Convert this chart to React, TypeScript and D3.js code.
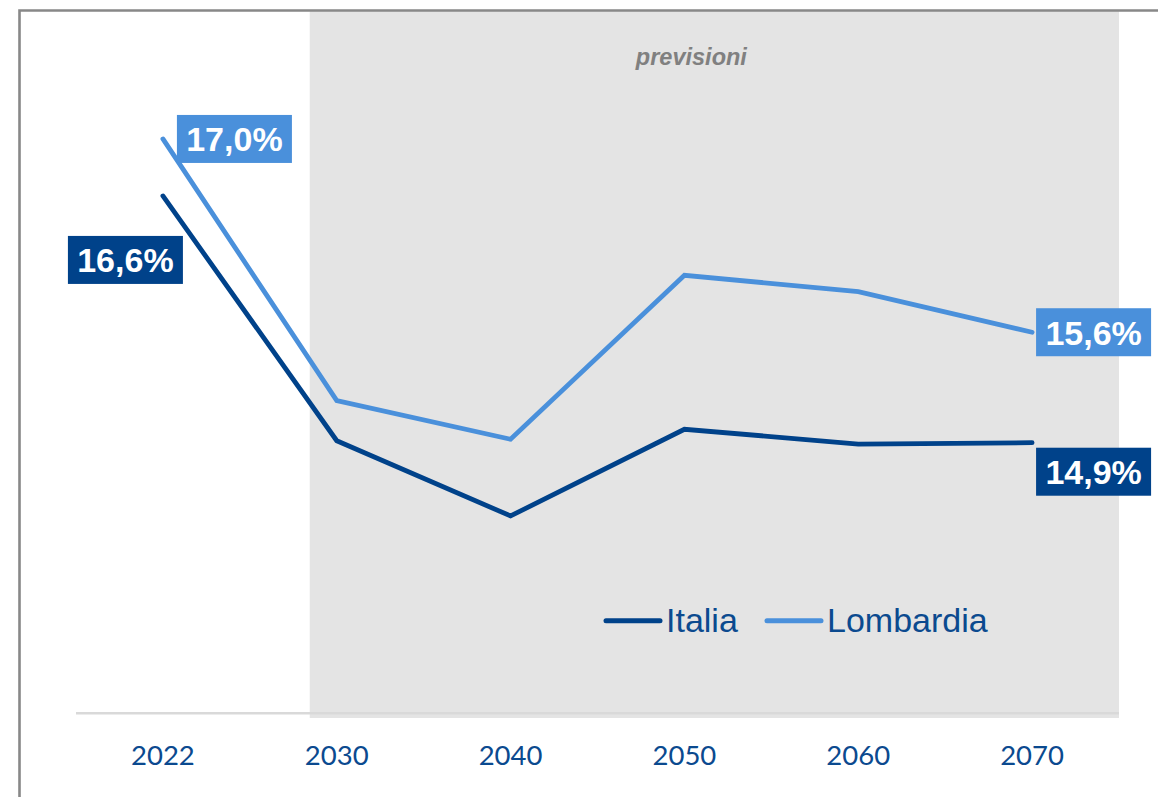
import React from "react";
import * as d3 from "d3";

const years = ["2022", "2030", "2040", "2050", "2060", "2070"];
const italia = [16.566, 14.878, 14.359, 14.957, 14.855, 14.864];
const lombardia = [16.959, 15.154, 14.888, 16.019, 15.906, 15.626];
const seriesNames = ["Italia", "Lombardia"];
const forecastLabel = "previsioni";

const W = 1158;
const H = 797;
const COL_IT = "#00428A";
const COL_LO = "#4A90DB";
const TXT = "#0B4A8F";

const fmt = (v: number) => d3.format(".1f")(v).replace(".", ",") + "%";

export default function App() {
  const x = d3.scalePoint<string>().domain(years).range([76, 1119]).padding(0.5);
  const y = d3.scaleLinear().domain([13, 18]).range([713, -12]);
  const line = d3
    .line<number>()
    .x((_, i) => x(years[i]) as number)
    .y((d) => y(d));

  const series = [
    { name: seriesNames[0], values: italia, color: COL_IT },
    { name: seriesNames[1], values: lombardia, color: COL_LO },
  ];

  // label boxes: [series index, point index, dx (box left rel. to point), dy (box center rel. to point)]
  const labels: [number, number, number, number][] = [
    [1, 0, 14, 0],
    [0, 0, -95, 64],
    [1, 5, 4, 0],
    [0, 5, 4, 29],
  ];
  const boxW = 115;
  const boxH = 48;

  const xForecast = (x(years[1]) as number) - 27;

  return (
    <svg
      width={W}
      height={H}
      style={{ position: "absolute", left: 0, top: 0, background: "#fff" }}
    >
      <rect x={xForecast} y={11} width={1119 - xForecast} height={718 - 11} fill="#E4E4E4" />
      <path d={`M19.5,${H + 5}V10.5H${W + 5}`} fill="none" stroke="#888" strokeWidth={2.6} />
      <line x1={76} x2={1119} y1={713.3} y2={713.3} stroke="#D9D9D9" strokeWidth={2.5} />
      <text
        x={(xForecast + 1119) / 2 - 23}
        y={64.5}
        textAnchor="middle"
        fontFamily="'Liberation Sans', Arial, sans-serif"
        fontWeight="bold"
        fontStyle="italic"
        fontSize={23.5}
        fill="#808080"
      >
        {forecastLabel}
      </text>
      {years.map((yr) => (
        <text
          key={yr}
          x={x(yr) as number}
          y={765}
          textAnchor="middle"
          fontFamily="Lato, 'Open Sans', sans-serif"
          fontSize={27.5}
          fill={TXT}
        >
          {yr}
        </text>
      ))}
      {series.map((s) => (
        <path
          key={s.name}
          d={line(s.values) as string}
          fill="none"
          stroke={s.color}
          strokeWidth={4.8}
          strokeLinecap="round"
          strokeLinejoin="miter"
        />
      ))}
      {labels.map(([si, pi, dx, dy], k) => {
        const s = series[si];
        const px = x(years[pi]) as number;
        const py = y(s.values[pi]);
        const bx = px + dx;
        const cy = py + dy;
        return (
          <g key={k}>
            <rect x={bx} y={cy - boxH / 2} width={boxW} height={boxH} fill={s.color} />
            <text
              x={bx + boxW / 2}
              y={cy + 12.5}
              textAnchor="middle"
              fontFamily="'Liberation Sans', Arial, sans-serif"
              fontWeight="bold"
              fontSize={34}
              fill="#fff"
            >
              {fmt(s.values[pi])}
            </text>
          </g>
        );
      })}
      {series.map((s, i) => {
        const lx = i === 0 ? 606 : 767;
        return (
          <g key={"lg" + s.name}>
            <line
              x1={lx}
              x2={lx + 54}
              y1={620.7}
              y2={620.7}
              stroke={s.color}
              strokeWidth={5}
              strokeLinecap="round"
            />
            <text
              x={lx + 60}
              y={632}
              fontFamily="'Liberation Sans', Arial, sans-serif"
              fontSize={34}
              fill={TXT}
            >
              {s.name}
            </text>
          </g>
        );
      })}
    </svg>
  );
}
